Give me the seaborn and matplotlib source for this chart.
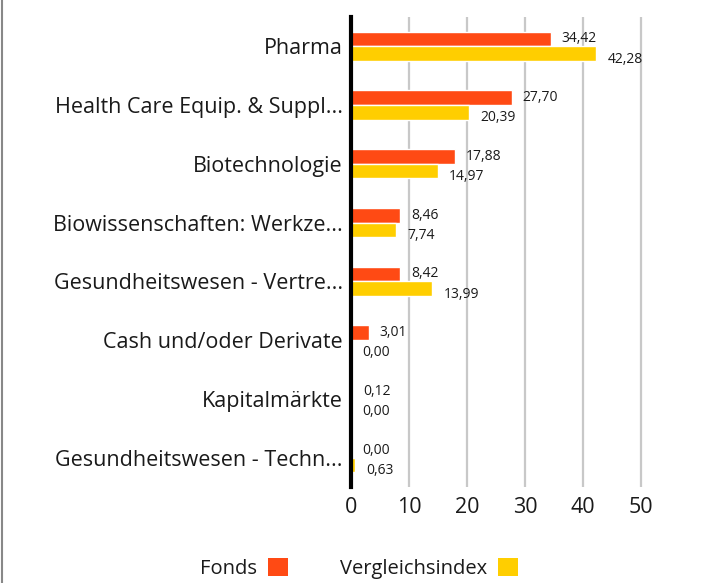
import matplotlib
matplotlib.use("Agg")
import matplotlib.pyplot as plt
import pandas as pd
import seaborn as sns
from matplotlib.lines import Line2D
from matplotlib.patches import Patch

categories = [
    "Pharma",
    "Health Care Equip. & Suppl...",
    "Biotechnologie",
    "Biowissenschaften: Werkze...",
    "Gesundheitswesen - Vertre...",
    "Cash und/oder Derivate",
    "Kapitalmärkte",
    "Gesundheitswesen - Techn...",
]
fonds = [34.42, 27.70, 17.88, 8.46, 8.42, 3.01, 0.12, 0.00]
vergleichsindex = [42.28, 20.39, 14.97, 7.74, 13.99, 0.00, 0.00, 0.63]
series_names = ["Fonds", "Vergleichsindex"]
colors = ["#FF4A14", "#FFCE00"]
x_ticks = [0, 10, 20, 30, 40, 50]

df = pd.DataFrame({
    "Kategorie": categories * 2,
    "Wert": fonds + vergleichsindex,
    "Serie": [series_names[0]] * len(categories) + [series_names[1]] * len(categories),
})

sns.set_style("white")
plt.rcParams["font.family"] = ["Open Sans", "DejaVu Sans"]
text_color = "#1a1a1a"

fig = plt.figure(figsize=(7.18, 5.83), dpi=100)
ax = fig.add_axes([0.489, 0.1647, 0.444, 0.8063])

sns.barplot(
    data=df, y="Kategorie", x="Wert", hue="Serie", orient="h",
    palette=colors, width=0.5, dodge=True, saturation=1, ax=ax, legend=False,
)

ax.set_xlim(0, 55)
ax.set_xticks(x_ticks)
ax.set_xlabel("")
ax.set_ylabel("")
ax.grid(axis="x", color="#c8c8c8", linewidth=1.6)
ax.set_axisbelow(True)
for side in ["top", "right", "bottom"]:
    ax.spines[side].set_visible(False)
ax.spines["left"].set_color("black")
ax.spines["left"].set_linewidth(3)
ax.spines["left"].set_zorder(5)
ax.tick_params(axis="y", length=0, pad=6, labelsize=15.5, labelcolor=text_color)
ax.tick_params(axis="x", length=0, pad=7, labelsize=15.5, labelcolor=text_color)

# value labels, commas as decimal separator
for i, container in enumerate(ax.containers):
    dy = 0 if i == 0 else -4
    for patch in container:
        val = patch.get_width()
        ax.annotate(
            f"{val:.2f}".replace(".", ","),
            (val, patch.get_y() + patch.get_height() / 2),
            xytext=(8, dy), textcoords="offset points",
            ha="left", va="center", fontsize=10, color=text_color,
        )

handles = [Patch(facecolor=c, edgecolor="none") for c in colors]
fig.legend(
    handles, series_names, loc="center", bbox_to_anchor=(0.5, 0.025),
    ncol=2, frameon=False, markerfirst=False, fontsize=14.5,
    handlelength=1.0, handleheight=1.0, handletextpad=0.55,
    columnspacing=2.6, labelcolor=text_color,
)

fig.add_artist(Line2D([0.003, 0.003], [0.0, 1.0], transform=fig.transFigure,
                      color="#888888", linewidth=1.5))

fig.savefig("out.png", dpi=100)
